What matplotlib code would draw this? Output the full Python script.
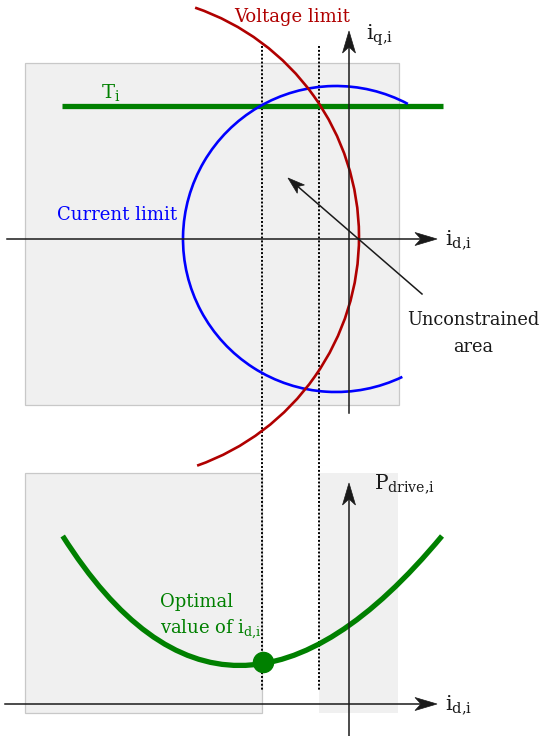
import numpy as np
import matplotlib.pyplot as plt
from matplotlib.patches import Arc, Rectangle, PathPatch, Polygon
from matplotlib.path import Path

# Geometry (pixel units, y grows downwards)
current_centre = (336, 239)
current_radius = 153
current_span = (64.3, 298)
voltage_centre = (116.6, 237)
voltage_radius = 242.4
voltage_span = (-71.1, 70.6)
torque_y = 106
torque_x = [62, 443]
dotted_x = [262, 319]
dotted_y = [46, 691]
pdrive_ctrl = [(62.7, 536), (227, 795), (442, 536)]
optimum = (263, 662)

# Layout of the two sketches
top_box = (25, 63, 399, 405)
bottom_boxes = [(25, 473, 262, 713), (319, 473, 398, 713)]
top_axes = {'x': (7, 437, 239), 'y': (349, 413, 31)}
bottom_axes = {'x': (5, 437, 704), 'y': (349, 736, 483)}
unconstrained_arrow = [(422, 294), (288, 178)]

blue = '#0000ff'
red = '#b00000'
green = '#008000'
ink = '#1a1a1a'

plt.rcParams['font.family'] = 'DejaVu Serif'
plt.rcParams['mathtext.fontset'] = 'custom'
plt.rcParams['mathtext.rm'] = 'DejaVu Serif'
plt.rcParams['mathtext.it'] = 'DejaVu Serif:italic'

fig = plt.figure(figsize=(5.44, 7.36), dpi=100)
ax = fig.add_axes([0, 0, 1, 1])
ax.set_xlim(0, 544)
ax.set_ylim(736, 0)
ax.axis('off')


def arrow(tail, tip, length, half_width, notch):
    # shaft plus a stealth-style head (concave back)
    tail = np.asarray(tail, float)
    tip = np.asarray(tip, float)
    u = (tip - tail) / np.hypot(*(tip - tail))
    n = np.array([-u[1], u[0]])
    back = tip - u * length
    ax.plot([tail[0], tip[0] - u[0] * (length - notch)],
            [tail[1], tip[1] - u[1] * (length - notch)],
            color=ink, lw=1.1, zorder=4)
    head = [tip, back + n * half_width, tip - u * (length - notch),
            back - n * half_width]
    ax.add_patch(Polygon(head, closed=True, facecolor=ink, edgecolor=ink,
                         lw=0.5, zorder=4))


# Grey background boxes
x0, y0, x1, y1 = top_box
ax.add_patch(Rectangle((x0, y0), x1 - x0, y1 - y0, facecolor='#f0f0f0',
                       edgecolor='#c8c8c8', lw=0.9, zorder=0))
for i, (x0, y0, x1, y1) in enumerate(bottom_boxes):
    ax.add_patch(Rectangle((x0, y0), x1 - x0, y1 - y0, facecolor='#f0f0f0',
                           edgecolor='#c8c8c8' if i == 0 else 'none',
                           lw=0.9, zorder=0))

# Dotted guides
for x in dotted_x:
    ax.plot([x, x], dotted_y, color='black', lw=1.4, ls=(0, (1, 1)), zorder=1)

# Torque line, current and voltage limits
ax.plot(torque_x, [torque_y, torque_y], color=green, lw=3.8,
        solid_capstyle='butt', zorder=2)
ax.add_patch(Arc(current_centre, 2 * current_radius, 2 * current_radius,
                 theta1=current_span[0], theta2=current_span[1],
                 color=blue, lw=1.9, zorder=3))
ax.add_patch(Arc(voltage_centre, 2 * voltage_radius, 2 * voltage_radius,
                 theta1=voltage_span[0], theta2=voltage_span[1],
                 color=red, lw=1.9, zorder=3))

# Drive power curve with the optimum
ax.add_patch(PathPatch(Path(pdrive_ctrl, [Path.MOVETO, Path.CURVE3, Path.CURVE3]),
                       facecolor='none', edgecolor=green, lw=3.8,
                       capstyle='butt', zorder=3))
ax.plot(*optimum, 'o', color=green, ms=14.5, zorder=4)

# Axes arrows
for axes_def in (top_axes, bottom_axes):
    xa, xb, yh = axes_def['x']
    arrow((xa, yh), (xb, yh), 22, 6.5, 6)
    xv, ya, yb = axes_def['y']
    arrow((xv, ya), (xv, yb), 22, 6.5, 6)
arrow(unconstrained_arrow[0], unconstrained_arrow[1], 17, 5.5, 4)

# Labels
txt = dict(va='baseline', zorder=5)
ax.text(234, 22, 'Voltage limit', color=red, fontsize=13, **txt)
ax.text(57, 220, 'Current limit', color=blue, fontsize=13, **txt)
ax.text(101, 98, r'T$_\mathrm{i}$', color=green, fontsize=14, **txt)
ax.text(366, 40, r'i$_\mathrm{q{,}i}$', color=ink, fontsize=15, **txt)
ax.text(445, 244, r'i$_\mathrm{d{,}i}$', color=ink, fontsize=15, **txt)
ax.text(445, 709, r'i$_\mathrm{d{,}i}$', color=ink, fontsize=15, **txt)
ax.text(374, 488, r'P$_\mathrm{drive{,}i}$', color=ink, fontsize=14.5, **txt)
ax.text(473, 325, 'Unconstrained', color=ink, fontsize=12.8,
        ha='center', **txt)
ax.text(473, 352, 'area', color=ink, fontsize=12.8, ha='center', **txt)
ax.text(160, 607, 'Optimal', color=green, fontsize=13, **txt)
ax.text(160, 634, r'value of i$_\mathrm{d{,}i}$', color=green, fontsize=13, **txt)

fig.savefig('out.png', dpi=100)
